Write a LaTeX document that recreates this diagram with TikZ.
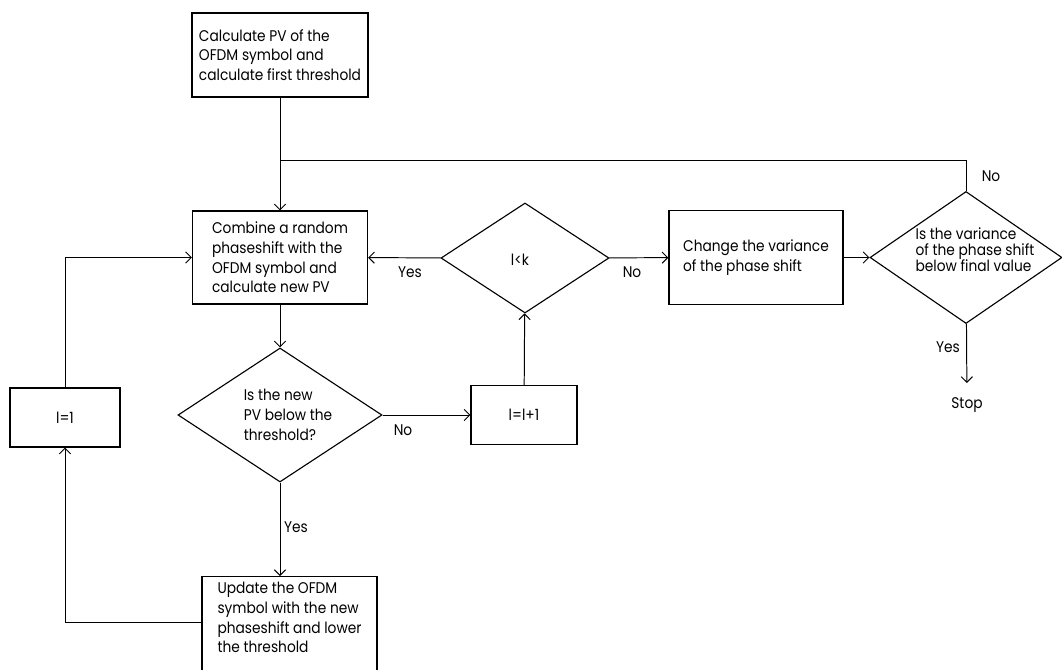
\documentclass[tikz,border=0pt]{standalone}
\usepackage{fontspec}
\setmainfont[FakeStretch=0.89]{Poppins}
\usetikzlibrary{arrows.meta,shapes.geometric,positioning}
\tikzset{flow/.style={-{Straight Barb[length=4pt,width=8pt]}},
  box/.style={draw, line width=0.8pt, align=left, inner sep=0pt},
  dia/.style={draw, diamond, line width=0.8pt, inner sep=0pt},
  txt/.style={align=left, inner sep=0pt},
  lbl/.style={inner sep=1pt}}

\begin{document}
\begin{tikzpicture}[x=0.025cm, y=-0.025cm, line width=0.7pt,
    font=\fontsize{11}{14}\selectfont]
  \useasboundingbox (0,0) rectangle (1062,669);
  \clip (0,0) rectangle (1062,669);
  % process boxes
  \node[box, minimum width=4.4cm, minimum height=2.1cm] (calc) at (280,55)
    {Calculate PV of the\\OFDM symbol and\\calculate first threshold};
  \node[box, minimum width=4.375cm, minimum height=2.325cm] (comb) at (280,257.5)
    {Combine a random\\phaseshift with the\\OFDM symbol and\\calculate new PV};
  \node[box, minimum width=4.35cm, minimum height=2.35cm] (chg) at (756,257.5)
    {Change the variance\\of the phase shift};
  \node[box, minimum width=2.75cm, minimum height=1.475cm] (init) at (65,417.5) {l=1};
  \node[box, minimum width=2.65cm, minimum height=1.475cm] (inc) at (524,415) {l=l+1};
  \node[box, anchor=north, minimum width=4.375cm, inner xsep=5pt, inner ysep=4pt,
    text depth=2.6cm] (upd) at (289.5,576)
    {Update the OFDM\\symbol with the new\\phaseshift and lower\\the threshold};
  % decisions
  \node[dia, minimum width=4.2cm, minimum height=2.75cm] (lk) at (525,258) {};
  \node[txt] (lktxt) at (520,260) {l<k};
  \node[dia, minimum width=5.1cm, minimum height=3.35cm] (pv) at (280,415) {};
  \node[txt] (pvtxt) at (288,415) {Is the new\\PV below the\\threshold?};
  \node[dia, minimum width=4.8cm, minimum height=3.3cm] (var) at (966,257.5) {};
  \node[txt, font=\fontsize{11}{11.5}\selectfont] (vartxt) at (975,250)
    {Is the variance\\of the phase shift\\below final value};
  \node[lbl, inner sep=10pt] (stop) at (967,405) {Stop};
  % connectors
  \coordinate (jn) at (280,160);
  \draw[flow] (calc) -- (comb);
  \draw (var.north) |- (jn);
  \draw[flow] (comb) -- (pv);
  \draw[flow] (pv) -- (inc);
  \draw[flow] (inc) -- (lk);
  \draw[flow] (lk) -- (comb);
  \draw[flow] (lk) -- (chg);
  \draw[flow] (chg) -- (var);
  \draw[flow] (var) -- (stop);
  \draw[flow] (pv.south) -- (pv.south |- upd.north);
  \draw[flow] (upd.north west) ++(0,46) -| (init.south);
  \draw[flow] (init.north) |- (comb.west);
  % branch labels
  \node[lbl] (y1) at (410,272) {Yes};
  \node[lbl] (n1) at (632,272) {No};
  \node[lbl] (n2) at (403,430) {No};
  \node[lbl] (y2) at (296,527) {Yes};
  \node[lbl] (y3) at (948,347) {Yes};
  \node[lbl] (n3) at (991,176) {No};
\end{tikzpicture}
\end{document}
